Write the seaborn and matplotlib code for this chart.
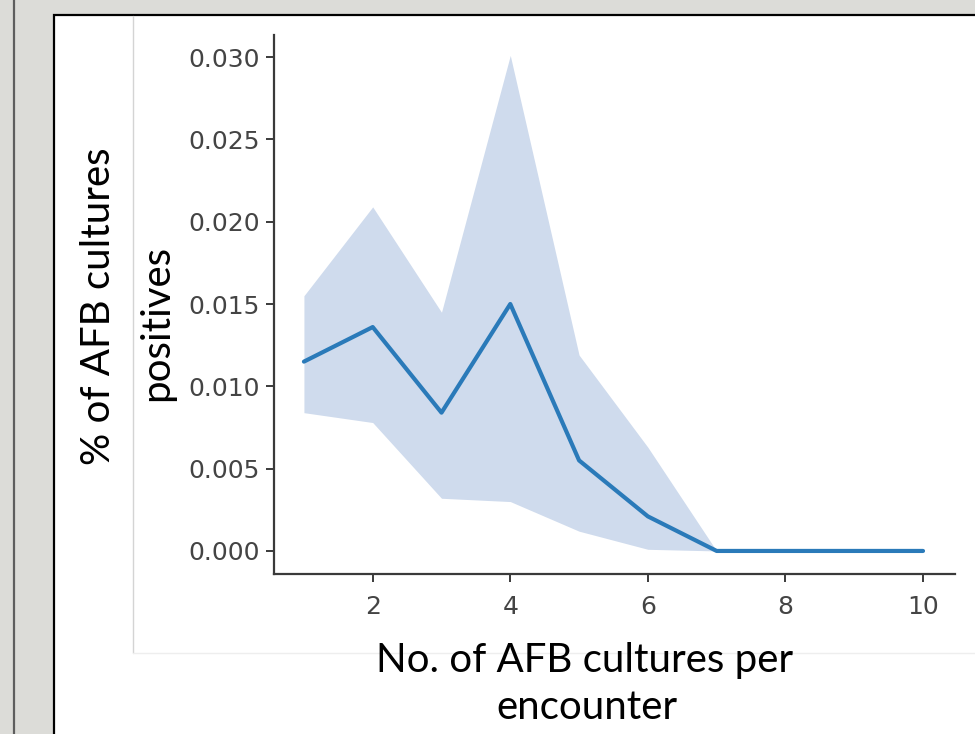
import numpy as np
import pandas as pd
import matplotlib
matplotlib.use("Agg")
import matplotlib.pyplot as plt
from matplotlib.patches import Rectangle
from matplotlib.lines import Line2D
import seaborn as sns

# values
n_cultures = [1, 2, 3, 4, 5, 6, 7, 8, 9, 10]
pct_positive = [0.0115, 0.0136, 0.0084, 0.0150, 0.0055, 0.0021, 0.0, 0.0, 0.0, 0.0]
ci_low = [0.0084, 0.0078, 0.0032, 0.0030, 0.0012, 0.0001, 0.0, 0.0, 0.0, 0.0]
ci_high = [0.0155, 0.0209, 0.0145, 0.0301, 0.0119, 0.0063, 0.0, 0.0, 0.0, 0.0]
x_ticks = [2, 4, 6, 8, 10]
y_ticks = [0.0, 0.005, 0.010, 0.015, 0.020, 0.025, 0.030]

df = pd.DataFrame({'n': n_cultures, 'pct': pct_positive, 'lo': ci_low, 'hi': ci_high})

sns.set_style("ticks")
W, H = 975, 734
fig = plt.figure(figsize=(W / 100, H / 100), dpi=100, facecolor='#dcdcd8')

def fx(px):
    return px / W

def fy(py):
    return 1 - py / H

# slide frame (behind the axes)
fig.add_artist(Line2D([fx(14), fx(14)], [0, 1], color='#5e5e5e', lw=1.6,
                      transform=fig.transFigure, zorder=-3))
fig.add_artist(Rectangle((fx(54), -0.1), 1.2, fy(15) + 0.1, facecolor='white', edgecolor='black',
                         lw=1.6, transform=fig.transFigure, zorder=-3))
# edge of the pasted plot image
fig.add_artist(Line2D([fx(133), fx(133)], [fy(653), fy(16)], color='#d4d4d4', lw=1.0,
                      transform=fig.transFigure, zorder=-2))
fig.add_artist(Line2D([fx(133), 1], [fy(653), fy(653)], color='#eeeeee', lw=1.0,
                      transform=fig.transFigure, zorder=-2))

ax = fig.add_axes([fx(274), fy(574), fx(955) - fx(274), fy(35) - fy(574)])
ax.set_facecolor('none')

ax.fill_between(df['n'], df['lo'], df['hi'], color='#cfdbed', lw=0)
sns.lineplot(data=df, x='n', y='pct', ax=ax, color='#2a7ab9', lw=3)

ax.set_xlim(0.565, 10.465)
ax.set_ylim(-0.0014, 0.03134)
ax.set_xticks(x_ticks)
ax.set_yticks(y_ticks)
ax.set_yticklabels([f"{v:.3f}" for v in y_ticks])
ax.set_xlabel('')
ax.set_ylabel('')
sns.despine(ax=ax)
for s in ['left', 'bottom']:
    ax.spines[s].set_color('#3a3a3a')
    ax.spines[s].set_linewidth(1.6)
ax.tick_params(axis='both', colors='#3a3a3a', labelcolor='#444444', labelsize=18,
               length=6, width=1.4, pad=4)
ax.tick_params(axis='x', pad=9)

lab = dict(family='Lato', fontsize=29, color='black')
fig.text(fx(99), fy(306), '% of AFB cultures', rotation=90, ha='center', va='center', **lab)
fig.text(fx(157), fy(323), 'positives', rotation=90, ha='center', va='center', **lab)
fig.text(fx(585), fy(672), 'No. of AFB cultures per', ha='center', va='baseline', **lab)
fig.text(fx(587), fy(719), 'encounter', ha='center', va='baseline', **lab)

fig.savefig('out.png', dpi=100, facecolor=fig.get_facecolor())
